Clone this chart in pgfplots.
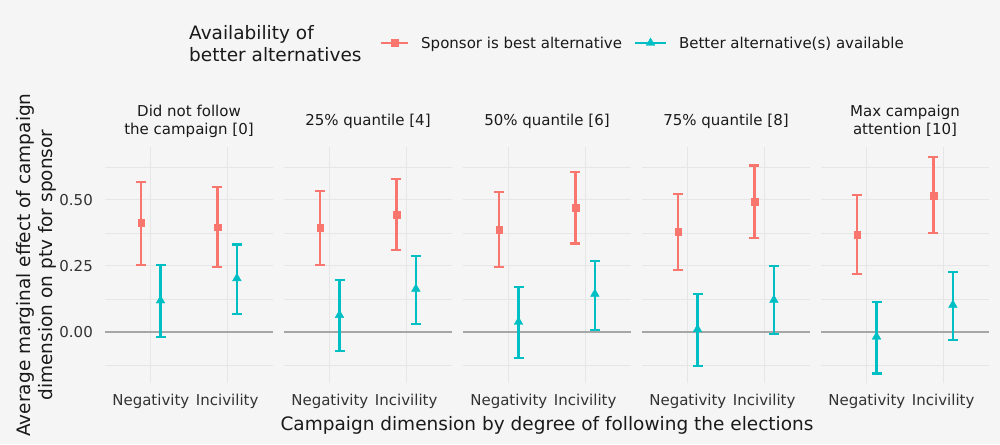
\documentclass[border=0pt]{standalone}
\usepackage{fontspec}
\setmainfont{DejaVu Sans}
\usepackage{pgfplots}
\pgfplotsset{compat=1.18}
\definecolor{bgc}{HTML}{F5F5F5}
\definecolor{gridc}{HTML}{E6E6E6}
\definecolor{zeroc}{HTML}{A6A6A6}
\definecolor{cred}{HTML}{F8766D}
\definecolor{ccyan}{HTML}{00BFC4}
\definecolor{txt}{HTML}{1A1A1A}
\definecolor{tickc}{HTML}{333333}
\newcommand\tickfont{\fontsize{15}{18}\selectfont}
\newcommand\stripfont{\fontsize{15}{18}\selectfont}
\newcommand\labfont{\fontsize{18.5}{22}\selectfont}
\newcommand\legfont{\fontsize{15}{18}\selectfont}
\pgfplotsset{
  panel/.style={
    scale only axis, width=168pt, height=236pt, anchor=south west,
    xmin=0.4, xmax=2.6, ymin=-0.193, ymax=0.70,
    xtick={1,2}, xticklabels={Negativity,Incivility},
    ytick={0,0.25,0.5}, yticklabels={0.00,0.25,0.50},
    minor ytick={-0.125,0.125,0.375,0.625},
    grid=both,
    major grid style={draw=gridc, line width=1.1pt},
    minor grid style={draw=gridc, line width=0.6pt},
    axis line style={draw=none},
    major tick length=0pt, minor tick length=0pt,
    tick style={draw=none},
    xticklabel style={anchor=base, yshift=-22.7pt, inner sep=0pt, font=\tickfont, text=tickc},
    yticklabel style={anchor=east, xshift=-12pt, inner sep=0pt, font=\tickfont, text=tickc},
    every axis title/.style={at={(0.5,1)}, anchor=center, yshift=26pt, align=center, font=\stripfont, text=txt},
  },
  redpts/.style={only marks, mark=square*, mark size=3.3pt, color=cred,
    error bars/y dir=both, error bars/y explicit,
    error bars/error bar style={line width=2.1pt, color=cred},
    error bars/error mark options={rotate=90, mark size=5pt, line width=2.1pt, color=cred},
    legend image code/.code={
      \draw[line width=2pt, cred] (0pt,0pt) -- (27pt,0pt);
      \fill[cred] (10.2pt,-3.3pt) rectangle (16.8pt,3.3pt);
    }},
  cyanpts/.style={only marks, mark=triangle*, mark size=5pt, color=ccyan,
    error bars/y dir=both, error bars/y explicit,
    error bars/error bar style={line width=2.1pt, color=ccyan},
    error bars/error mark options={rotate=90, mark size=5pt, line width=2.1pt, color=ccyan},
    legend image code/.code={
      \draw[line width=2pt, ccyan] (0pt,0pt) -- (31pt,0pt);
      \fill[ccyan] (15.5pt,5pt) -- (11.2pt,-2.5pt) -- (19.8pt,-2.5pt) -- cycle;
    }},
  zeroline/.style={forget plot, zeroc, line width=2pt},
}
\begin{document}
\begin{tikzpicture}
\fill[bgc] (0pt,0pt) rectangle (1000pt,444pt);

% Panel 1
\begin{axis}[panel, at={(105pt,61pt)}, title={Did not follow\\the campaign [0]},
  legend columns=2, legend cell align=left,
  legend style={at={(axis description cs:1.637,1.4407)}, anchor=west, draw=none, fill=none,
    inner sep=0pt, font=\legfont, text=txt,
    nodes={inner sep=0pt, text depth=0pt},
    /tikz/every odd column/.append style={column sep=12pt},
    /tikz/every even column/.append style={column sep=12pt}}]
\addplot[zeroline] coordinates {(0.4,0) (2.6,0)};
\addplot[redpts] coordinates {(0.873,0.413) += (0,0.155) -= (0,0.160) (1.873,0.396) += (0,0.151) -= (0,0.149)};
\addlegendentry{Sponsor is best alternative}
\addplot[cyanpts] coordinates {(1.127,0.119) += (0,0.134) -= (0,0.138) (2.127,0.203) += (0,0.128) -= (0,0.135)};
\addlegendentry{Better alternative(s) available}
\end{axis}

% Panel 2
\begin{axis}[panel, at={(284pt,61pt)}, yticklabels={}, title={25\% quantile [4]}]
\addplot[zeroline] coordinates {(0.4,0) (2.6,0)};
\addplot[redpts] coordinates {(0.873,0.394) += (0,0.141) -= (0,0.141) (1.873,0.444) += (0,0.136) -= (0,0.135)};
\addplot[cyanpts] coordinates {(1.127,0.064) += (0,0.134) -= (0,0.135) (2.127,0.163) += (0,0.126) -= (0,0.133)};
\end{axis}

% Panel 3
\begin{axis}[panel, at={(463pt,61pt)}, yticklabels={}, title={50\% quantile [6]}]
\addplot[zeroline] coordinates {(0.4,0) (2.6,0)};
\addplot[redpts] coordinates {(0.873,0.386) += (0,0.142) -= (0,0.139) (1.873,0.470) += (0,0.135) -= (0,0.135)};
\addplot[cyanpts] coordinates {(1.127,0.038) += (0,0.132) -= (0,0.138) (2.127,0.144) += (0,0.126) -= (0,0.135)};
\end{axis}

% Panel 4
\begin{axis}[panel, at={(642pt,61pt)}, yticklabels={}, title={75\% quantile [8]}]
\addplot[zeroline] coordinates {(0.4,0) (2.6,0)};
\addplot[redpts] coordinates {(0.873,0.379) += (0,0.142) -= (0,0.143) (1.873,0.492) += (0,0.138) -= (0,0.136)};
\addplot[cyanpts] coordinates {(1.127,0.010) += (0,0.133) -= (0,0.139) (2.127,0.121) += (0,0.128) -= (0,0.130)};
\end{axis}

% Panel 5
\begin{axis}[panel, at={(821pt,61pt)}, yticklabels={}, title={Max campaign\\attention [10]}]
\addplot[zeroline] coordinates {(0.4,0) (2.6,0)};
\addplot[redpts] coordinates {(0.873,0.369) += (0,0.151) -= (0,0.149) (1.873,0.516) += (0,0.147) -= (0,0.141)};
\addplot[cyanpts] coordinates {(1.127,-0.018) += (0,0.133) -= (0,0.139) (2.127,0.102) += (0,0.125) -= (0,0.132)};
\end{axis}

\node[anchor=west, align=left, inner sep=0pt, font=\labfont, text=txt] at (189pt,400pt) {Availability of\\better alternatives};
\node[rotate=90, align=center, inner sep=0pt, font=\labfont, text=txt] at (36pt,179pt) {Average marginal effect of campaign\\dimension on ptv for sponsor};
\node[anchor=base, inner sep=0pt, font=\labfont, text=txt] at (547pt,14pt) {Campaign dimension by degree of following the elections};
\end{tikzpicture}
\end{document}
